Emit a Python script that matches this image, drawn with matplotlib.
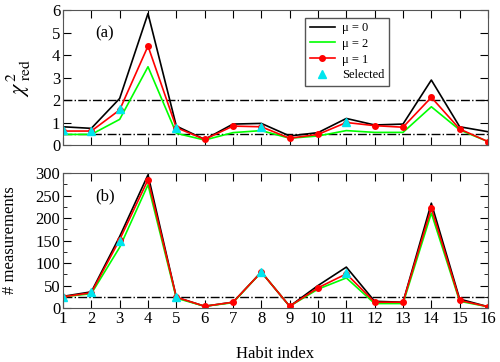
import numpy as np
import matplotlib
matplotlib.use('Agg')
import matplotlib.pyplot as plt
from matplotlib.ticker import MultipleLocator

plt.rcParams['font.family'] = ['Liberation Serif', 'DejaVu Serif']
plt.rcParams['mathtext.fontset'] = 'stix'

habit = np.arange(1, 17)

# reduced chi-square per habit
chi_mu0 = [0.81, 0.74, 2.07, 5.85, 0.84, 0.25, 0.93, 0.96, 0.40, 0.55, 1.18, 0.89, 0.93, 2.89, 0.81, 0.59]
chi_mu2 = [0.47, 0.47, 1.14, 3.48, 0.52, 0.22, 0.55, 0.64, 0.30, 0.40, 0.64, 0.56, 0.56, 1.70, 0.67, 0.15]
chi_mu1 = [0.62, 0.62, 1.56, 4.40, 0.77, 0.25, 0.84, 0.81, 0.30, 0.47, 1.00, 0.86, 0.79, 2.12, 0.71, 0.15]

# number of measurements per habit
n_mu0 = [26, 36, 159, 296, 24, 4, 13, 80, 4, 50, 91, 15, 13, 233, 20, 3]
n_mu2 = [25, 32, 135, 274, 22, 4, 12, 80, 4, 42, 67, 10, 10, 211, 15, 3]
n_mu1 = [25, 34, 152, 285, 24, 4, 13, 80, 4, 45, 76, 13, 13, 222, 17, 3]

# selected habits
sel_idx = [1, 2, 3, 5, 8, 11]
sel_chi = [0.65, 0.62, 1.62, 0.75, 0.78, 1.04]
sel_n = [25, 35, 150, 25, 80, 79]

chi_limits = [0.5, 2.0]
n_limit = 25

fig = plt.figure(figsize=(5.0, 3.62), dpi=100)
ax1 = fig.add_axes([0.126, 0.5995, 0.85, 0.3725])
ax2 = fig.add_axes([0.126, 0.149, 0.85, 0.373])

cyan = '#00e5ee'
green = '#00ff00'

# panel (a)
for y in chi_limits:
    ax1.axhline(y, color='black', ls='-.', lw=1.0)
ax1.plot(habit, chi_mu0, color='black', lw=1.2, label=u'\u03bc = 0')
ax1.plot(habit, chi_mu2, color=green, lw=1.2, label=u'\u03bc = 2')
ax1.plot(habit, chi_mu1, color='red', lw=1.2, marker='o', ms=4, label=u'\u03bc = 1')
ax1.plot(sel_idx, sel_chi, ls='none', marker='^', color=cyan, ms=6, label='Selected')
ax1.set_xlim(1, 16)
ax1.set_ylim(0, 6)
ax1.yaxis.set_major_locator(MultipleLocator(1))
ax1.set_xticks(habit)
ax1.set_xticklabels([])
ax1.set_ylabel(r'$\chi^{\,2}_{\ \mathrm{red}}$', fontsize=16)
ax1.yaxis.set_label_coords(-0.07, 0.5)
ax1.text(0.075, 0.8, '(a)', transform=ax1.transAxes, fontsize=12)
leg = ax1.legend(loc='upper left', bbox_to_anchor=(0.555, 0.99), fontsize=9,
                 fancybox=False, edgecolor='#555555', framealpha=1,
                 handlelength=2.0, handletextpad=0.6, borderpad=0.35,
                 labelspacing=0.3)
leg.get_frame().set_linewidth(1.0)

# panel (b)
ax2.axhline(n_limit, color='black', ls='-.', lw=1.0)
ax2.plot(habit, n_mu0, color='black', lw=1.2)
ax2.plot(habit, n_mu2, color=green, lw=1.2)
ax2.plot(habit, n_mu1, color='red', lw=1.2, marker='o', ms=4)
ax2.plot(sel_idx, sel_n, ls='none', marker='^', color=cyan, ms=6)
ax2.set_xlim(1, 16)
ax2.set_ylim(0, 300)
ax2.yaxis.set_major_locator(MultipleLocator(50))
ax2.yaxis.set_minor_locator(MultipleLocator(25))
ax2.set_xticks(habit)
ax2.set_ylabel('# measurements', fontsize=12)
ax2.yaxis.set_label_coords(-0.105, 0.5)
ax2.set_xlabel('Habit index', fontsize=12, labelpad=14)
ax2.text(0.075, 0.8, '(b)', transform=ax2.transAxes, fontsize=12)

for ax in (ax1, ax2):
    ax.tick_params(which='both', direction='in', top=True, right=True, labelsize=12, pad=2)
    ax.tick_params(which='major', length=6)
    ax.tick_params(which='minor', length=3)
    for s in ax.spines.values():
        s.set_color('#555555')

fig.savefig('out.png', dpi=100)
